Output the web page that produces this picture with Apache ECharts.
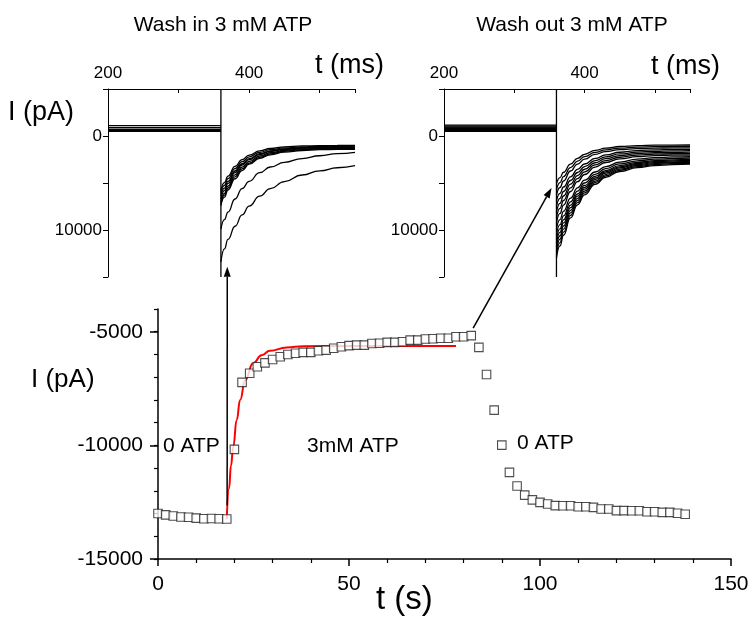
<!DOCTYPE html>
<html><head><meta charset="utf-8">
<script src="https://cdn.jsdelivr.net/npm/echarts@6/dist/echarts.min.js"></script>
<style>html,body{margin:0;padding:0;background:#fff}#c{width:752px;height:618px}</style>
</head><body><div id="c"></div>
<script>
// ---- main plot data (t in s, I in pA) ----
const mainT = [0,2,4,6,8,10,12,14,16,18,20,22,24,26,28,30,32,34,36,38,40,42,44,46,48,50,52,54,56,58,60,62,64,66,68,70,72,74,76,78,80,82,84,86,88,90,92,94,96,98,100,102,104,106,108,110,112,114,116,118,120,122,124,126,128,130,132,134,136,138];
const mainI = [-13000,-13060,-13110,-13150,-13160,-13200,-13230,-13220,-13230,-13240,
  -10175,-7230,-6830,-6540,-6370,-6220,-6100,-6000,-5950,-5910,
  -5910,-5840,-5810,-5730,-5660,-5610,-5590,-5590,-5520,-5510,
  -5470,-5470,-5440,-5370,-5370,-5320,-5310,-5290,-5290,-5220,
  -5220,-5170,-5690,-6880,-8450,-9990,-11190,-11790,-12190,-12400,
  -12510,-12580,-12650,-12660,-12660,-12700,-12700,-12730,-12800,-12800,
  -12870,-12870,-12880,-12880,-12920,-12920,-12950,-12950,-12990,-13030];
const fitT = [18,18.6,19.1,19.7,20.6,21.5,22.8,24.9,27.1,29.3,33.7,38,50,78];
const fitI = [-13250,-11900,-10900,-10050,-8880,-8000,-7130,-6390,-6030,-5840,-5690,-5635,-5630,-5630];
const mainXTicks = [0,50,100,150];
const mainYTicks = [-15000,-10000,-5000];

// ---- inset data (t in ms, I in pA) ----
const insetT = [360,365,370,380,390,400,415,430,450,475,500,525,550];
const baseT = [200,360];
const stepT = 360;
const washInBaselines = [-1100,-880,-670,-560,-500];
const washOutBaselines = [-1150,-1050,-950,-870,-800,-720,-650,-580,-500];
const wi1 = [5800,4960,4269,3222,2512,2032,1581,1326,1149,1058,1022,1009,1003];
const wi2 = [6100,5252,4544,3474,2732,2220,1733,1457,1261,1150,1108,1091,1085];
const wi3 = [6400,5544,4825,3723,2951,2410,1885,1581,1360,1236,1185,1165,1156];
const wi4 = [6700,5804,5050,3895,3087,2520,1970,1651,1420,1290,1237,1215,1206];
const wi5 = [7000,6095,5327,4146,3304,2714,2130,1780,1528,1379,1316,1289,1278];
const wi6 = [7200,6296,5539,4341,3490,2880,2269,1899,1624,1457,1385,1354,1341];
const wi7 = [7400,6506,5744,4550,3680,3000,2380,2000,1710,1540,1460,1425,1410];
const wi8 = [9900,8900,8100,6700,5600,4820,3900,3300,2800,2400,2100,1880,1740];
const wi9 = [13400,12000,11000,9600,8400,7450,6400,5600,4850,4150,3700,3380,3160];
const wo1 = [5100,4424,3855,2984,2373,1946,1531,1290,1116,1018,978,962,955];
const wo2 = [5700,4950,4320,3354,2678,2204,1744,1477,1284,1175,1131,1113,1105];
const wo3 = [6300,5477,4785,3725,2982,2462,1957,1664,1452,1333,1284,1264,1256];
const wo4 = [6900,6103,5426,4343,3556,2979,2385,2016,1730,1551,1469,1432,1414];
const wo5 = [7500,6637,5905,4733,3882,3258,2615,2216,1907,1714,1625,1585,1565];
const wo6 = [8100,7172,6385,5124,4209,3537,2846,2417,2084,1876,1781,1737,1717];
const wo7 = [8700,7707,6864,5515,4535,3816,3076,2617,2261,2038,1936,1890,1868];
const wo8 = [9300,8242,7344,5906,4862,4095,3307,2818,2438,2201,2092,2042,2019];
const wo9 = [9900,8893,8017,6599,5521,4700,3832,3258,2786,2468,2309,2229,2190];
const wo10 = [10500,9434,8507,7007,5867,4998,4079,3473,2972,2636,2468,2384,2342];
const wo11 = [11000,9889,8922,7358,6169,5263,4305,3673,3151,2801,2625,2537,2494];
const wo12 = [11400,10250,9249,7630,6400,5462,4470,3816,3276,2913,2731,2640,2595];
const wo13 = [11800,10611,9577,7902,6630,5660,4636,3958,3400,3025,2838,2743,2697];
const wo14 = [12200,10972,9904,8174,6861,5859,4801,4101,3525,3137,2944,2846,2798];
const wo15 = [12600,11333,10231,8447,7091,6058,4966,4244,3650,3250,3050,2949,2900];
const wo16 = [13000,11694,10558,8719,7322,6256,5131,4387,3774,3362,3156,3053,3001];
const washInTraces = [wi1,wi2,wi3,wi4,wi5,wi6,wi7,wi8,wi9];
const washOutTraces = [wo1,wo2,wo3,wo4,wo5,wo6,wo7,wo8,wo9,wo10,wo11,wo12,wo13,wo14,wo15,wo16];
const insetYRange = [-5000,15000];
const insetXLabels = [200,400];
const insetYLabels = [0,10000];

const FONT = "'Liberation Sans', Arial, sans-serif";
const chart = echarts.init(document.getElementById('c'), null, {renderer:'canvas'});

function zip(xs, ys){ return xs.map((x,i)=>[x, ys[i]]); }

function insetX(grid){
  return {gridIndex:grid, type:'value', position:'top', min:200, max:550, interval:100,
    axisLine:{onZero:false, lineStyle:{color:'#000', width:1}},
    axisTick:{inside:true, length:4, lineStyle:{color:'#000'}},
    axisLabel:{fontSize:17, fontFamily:FONT, color:'#000', margin:7,
      formatter:v=>insetXLabels.includes(v)?String(v):''},
    splitLine:{show:false}};
}
function insetY(grid){
  return {gridIndex:grid, type:'value', position:'left', inverse:true,
    min:insetYRange[0], max:insetYRange[1], interval:5000,
    axisLine:{onZero:false, lineStyle:{color:'#000', width:1}},
    axisTick:{length:5, lineStyle:{color:'#000'}},
    axisLabel:{fontSize:17, fontFamily:FONT, color:'#000', margin:6,
      formatter:v=>insetYLabels.includes(v)?String(v):''},
    splitLine:{show:false}};
}
const thin = {color:'#000', width:1.3};
function lineSeries(xi, yi, data, smooth){
  return {type:'line', xAxisIndex:xi, yAxisIndex:yi, data:data, showSymbol:false, symbol:'none',
    smooth:smooth?0.5:false, smoothMonotone:'x', lineStyle:thin, silent:true, z:2};
}

const series = [];
// main scatter
series.push({type:'scatter', xAxisIndex:0, yAxisIndex:0, data:zip(mainT, mainI), symbol:'rect', symbolSize:8.5,
  itemStyle:{color:'#fff', borderColor:'#222', borderWidth:1.1}, z:4});
series.push({type:'line', xAxisIndex:0, yAxisIndex:0, data:zip(fitT, fitI), showSymbol:false, symbol:'none',
  smooth:0.5, smoothMonotone:'x', lineStyle:{color:'#ff0000', width:2}, z:3});
// insets
washInBaselines.forEach(v=>series.push(lineSeries(1,2, baseT.map(t=>[t,v]), false)));
series.push(lineSeries(1,2, insetYRange.map(v=>[stepT,v]), false));
washInTraces.forEach(tr=>series.push(lineSeries(1,2, zip(insetT, tr), true)));
washOutBaselines.forEach(v=>series.push(lineSeries(2,3, baseT.map(t=>[t,v]), false)));
series.push(lineSeries(2,3, insetYRange.map(v=>[stepT,v]), false));
washOutTraces.forEach(tr=>series.push(lineSeries(2,3, zip(insetT, tr), true)));

const option = {
  animation:false,
  backgroundColor:'#fff',
  textStyle:{fontFamily:FONT},
  grid:[
    {left:158, top:309, width:573, height:250},
    {left:108, top:89, width:247, height:188},
    {left:444, top:89, width:246, height:188}
  ],
  xAxis:[
    {gridIndex:0, type:'value', position:'bottom', min:0, max:150, interval:50,
      axisLine:{onZero:false, lineStyle:{color:'#000', width:1.5}},
      axisTick:{length:7, lineStyle:{color:'#000', width:1.5}},
      minorTick:{show:true, splitNumber:5, length:4, lineStyle:{color:'#000', width:1.2}},
      axisLabel:{fontSize:21, fontFamily:FONT, color:'#000', margin:15,
        formatter:v=>mainXTicks.includes(v)?String(v):''},
      splitLine:{show:false}, minorSplitLine:{show:false}},
    insetX(1),
    insetX(2)
  ],
  yAxis:[
    {gridIndex:0, type:'value', position:'left', min:-15000, max:-4000, interval:1000,
      axisLine:{onZero:false, lineStyle:{color:'#000', width:1.5}},
      axisTick:{length:4, lineStyle:{color:'#000', width:1.2}},
      axisLabel:{fontSize:21, fontFamily:FONT, color:'#000', margin:15,
        formatter:v=>mainYTicks.includes(v)?String(v):''},
      splitLine:{show:false}},
    {gridIndex:0, type:'value', position:'left', min:-15000, max:-4000, interval:5000,
      axisLine:{show:false, onZero:false},
      axisTick:{length:8, customValues:mainYTicks, lineStyle:{color:'#000', width:1.5}},
      axisLabel:{show:false},
      splitLine:{show:false}},
    insetY(1),
    insetY(2)
  ],
  series:series
};
chart.setOption(option);

function arrow(p0, p1){
  const dx=p1[0]-p0[0], dy=p1[1]-p0[1], L=Math.hypot(dx,dy);
  const ux=dx/L, uy=dy/L, nx=-uy, ny=ux, hl=10, hw=3.5;
  const bx=p1[0]-ux*hl, by=p1[1]-uy*hl;
  return [
    {type:'line', shape:{x1:p0[0], y1:p0[1], x2:bx, y2:by}, style:{stroke:'#000', lineWidth:1.5}, z:10},
    {type:'polygon', shape:{points:[[p1[0],p1[1]],[bx+nx*hw,by+ny*hw],[bx-nx*hw,by-ny*hw]]}, style:{fill:'#000'}, z:10}
  ];
}
function txt(text, x, y, size, align){
  return {type:'text', x:x, y:y, z:10, style:{text:text, fontSize:size, fontFamily:FONT, fill:'#000',
    align:align||'left', verticalAlign:'middle'}};
}
const a1s = chart.convertToPixel({gridIndex:0}, [18.1, -12650]);
const a1e = chart.convertToPixel({gridIndex:1}, [369, 13900]);
const a2s = chart.convertToPixel({gridIndex:0}, [82.5, -4840]);
const a2e = chart.convertToPixel({gridIndex:2}, [353, 5530]);

const graphics = [].concat(
  arrow(a1s, a1e), arrow(a2s, a2e),
  [
    txt('Wash in 3 mM ATP', 223, 25, 21, 'center'),
    txt('Wash out 3 mM ATP', 572, 25, 21, 'center'),
    txt('t (ms)', 315, 66, 27),
    txt('t (ms)', 651, 67, 27),
    txt('I (pA)', 8, 113, 27),
    txt('I (pA)', 31, 380, 26),
    txt('t (s)', 376, 600, 33),
    txt('0 ATP', 163, 446, 21),
    txt('3mM ATP', 307, 446, 21),
    txt('0 ATP', 517, 443, 21)
  ]);
chart.setOption({graphic:graphics});
</script></body></html>
